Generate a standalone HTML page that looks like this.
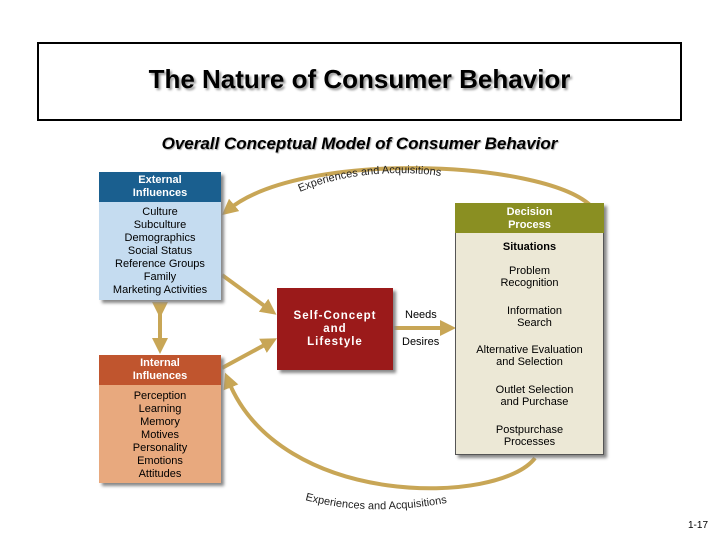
<!DOCTYPE html>
<html><head><style>
body{margin:0;width:720px;height:540px;background:#fff;position:relative;overflow:hidden;font-family:"Liberation Sans",sans-serif}
.a{position:absolute}
.t{text-align:center}
</style></head><body>
<div class="a" style="left:37px;top:42px;width:641px;height:75px;border:2px solid #000"></div>
<div class="a t" style="left:37px;top:64px;width:645px;font-size:26px;font-weight:bold;text-shadow:2px 2px 2px #999">The Nature of Consumer Behavior</div>
<div class="a t" style="left:37px;top:134px;width:645px;font-size:17px;font-weight:bold;font-style:italic;text-shadow:1px 1px 1px #aaa">Overall Conceptual Model of Consumer Behavior</div>
<svg class="a" style="left:0;top:0" width="720" height="540">
<defs><marker id="m" markerWidth="4" markerHeight="4" refX="2" refY="2" orient="auto"><path d="M0,0L4,2L0,4z" fill="#c8a656"/></marker>
<marker id="k" markerWidth="6" markerHeight="6" refX="5" refY="3" orient="auto"><path d="M0,0L6,3L0,6z" fill="#000"/></marker></defs>
<g fill="none" stroke="#c8a656" stroke-width="4">
<path id="p1" d="M590,205 C540,160 300,150 228,210" marker-end="url(#m)"/>
<path id="p2" d="M535,458 C500,505 280,510 228,380" marker-end="url(#m)"/>
<path d="M222,275 L270,310" marker-end="url(#m)"/>
<path d="M222,368 L270,342" marker-end="url(#m)"/>
<path d="M160,310 L160,346" marker-start="url(#m)" marker-end="url(#m)"/>
<path d="M393,328 L448,328" marker-end="url(#m)"/>
</g>
<path id="q1" d="M300,192 C350,170 420,168 470,182" fill="none"/>
<path id="q2" d="M305,500 C360,515 420,510 470,498" fill="none"/>
<text font-size="11" fill="#222"><textPath href="#q1">Experiences and Acquisitions</textPath></text>
<text font-size="11" fill="#222"><textPath href="#q2">Experiences and Acquisitions</textPath></text>
<path d="M474,311 L467,311 L467,390 L478,390" fill="none" stroke="#000" stroke-width="1.2" marker-end="url(#k)"/>
<g stroke="#000" stroke-width="1">
<line x1="530" y1="289" x2="530" y2="305"/><line x1="530" y1="328" x2="530" y2="344"/><line x1="530" y1="368" x2="530" y2="384"/><line x1="530" y1="408" x2="530" y2="424"/></g>
</svg>
<div class="a" style="left:99px;top:172px;width:122px;height:128px;background:#c5dcf0;box-shadow:3px 3px 3px #888"></div>
<div class="a t" style="left:99px;top:172px;width:122px;height:30px;background:#1a5f8f;color:#fff;font-weight:bold;font-size:11px;line-height:13px;padding-top:2px;box-sizing:border-box">External<br>Influences</div>
<div class="a t" style="left:99px;top:206px;width:122px;font-size:11px;line-height:13px">Culture<br>Subculture<br>Demographics<br>Social Status<br>Reference Groups<br>Family<br>Marketing Activities</div>
<div class="a" style="left:99px;top:355px;width:122px;height:128px;background:#e8a97e;box-shadow:3px 3px 3px #888"></div>
<div class="a t" style="left:99px;top:355px;width:122px;height:30px;background:#c0552e;color:#fff;font-weight:bold;font-size:11px;line-height:13px;padding-top:2px;box-sizing:border-box">Internal<br>Influences</div>
<div class="a t" style="left:99px;top:390px;width:122px;font-size:11px;line-height:13px">Perception<br>Learning<br>Memory<br>Motives<br>Personality<br>Emotions<br>Attitudes</div>
<div class="a t" style="left:277px;top:288px;width:116px;height:82px;background:#9b1a1a;color:#fff;font-weight:bold;font-size:11.5px;letter-spacing:1px;line-height:13px;padding-top:22px;box-sizing:border-box;box-shadow:3px 3px 3px #888">Self-Concept<br>and<br>Lifestyle</div>
<div class="a" style="left:405px;top:309px;font-size:11px">Needs</div>
<div class="a" style="left:402px;top:336px;font-size:11px">Desires</div>
<div class="a" style="left:455px;top:203px;width:149px;height:252px;background:#ece8d6;border:1px solid #555;box-sizing:border-box;box-shadow:3px 3px 3px #888"></div>
<div class="a t" style="left:455px;top:203px;width:149px;height:30px;background:#8a8f22;color:#fff;font-weight:bold;font-size:11px;line-height:13px;padding-top:3px;box-sizing:border-box">Decision<br>Process</div>
<div class="a t" style="left:455px;top:241px;width:149px;font-size:11px;font-weight:bold">Situations</div>
<div class="a t" style="left:455px;top:265px;width:149px;font-size:11px;line-height:12px">Problem<br>Recognition</div>
<div class="a t" style="left:460px;top:305px;width:149px;font-size:11px;line-height:12px">Information<br>Search</div>
<div class="a t" style="left:455px;top:344px;width:149px;font-size:11px;line-height:12px">Alternative Evaluation<br>and Selection</div>
<div class="a t" style="left:460px;top:384px;width:149px;font-size:11px;line-height:12px">Outlet Selection<br>and Purchase</div>
<div class="a t" style="left:455px;top:424px;width:149px;font-size:11px;line-height:12px">Postpurchase<br>Processes</div>
<div class="a" style="left:688px;top:520px;font-size:10px">1-17</div>
</body></html>
